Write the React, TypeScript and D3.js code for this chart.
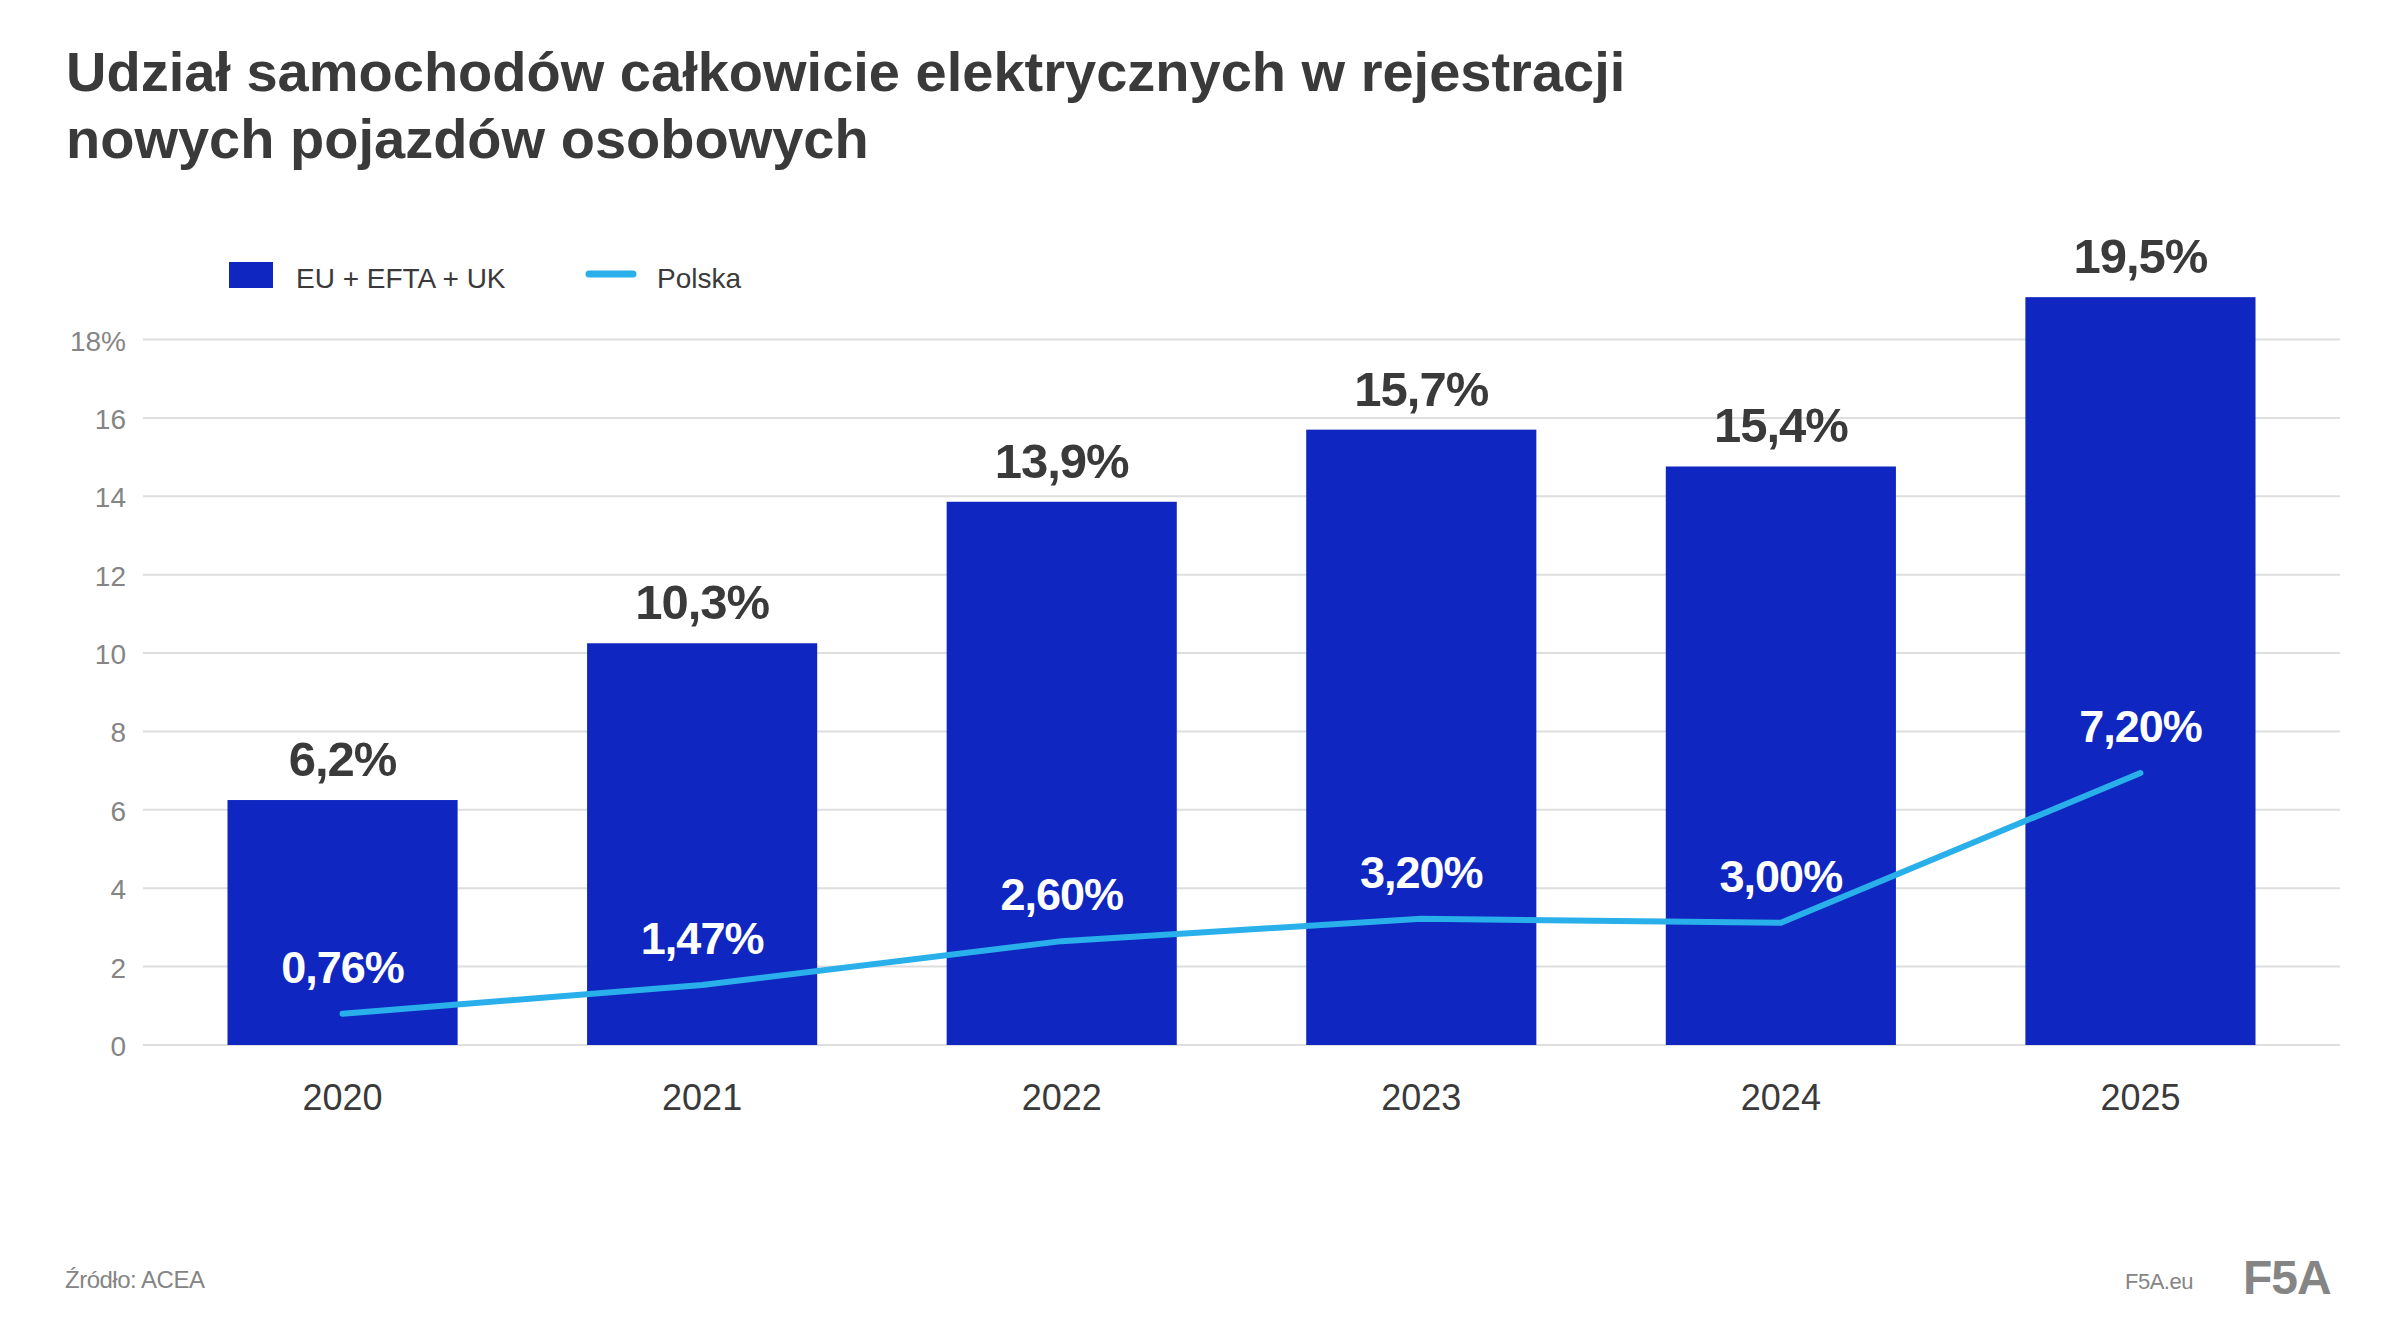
import { useEffect } from 'react';
import * as d3 from 'd3';

const YEARS = ['2020', '2021', '2022', '2023', '2024', '2025'];
const EU_SHARE = [6.25, 10.25, 13.86, 15.7, 14.76, 19.08];
const EU_LABELS = ['6,2%', '10,3%', '13,9%', '15,7%', '15,4%', '19,5%'];
const PL_SHARE = [0.8, 1.53, 2.65, 3.22, 3.12, 6.94];
const PL_LABELS = ['0,76%', '1,47%', '2,60%', '3,20%', '3,00%', '7,20%'];
const Y_TICKS = [0, 2, 4, 6, 8, 10, 12, 14, 16, 18];
const TITLE_LINES = [
  'Udział samochodów całkowicie elektrycznych w rejestracji',
  'nowych pojazdów osobowych',
];
const LEGEND = ['EU + EFTA + UK', 'Polska'];

const BAR = '#0f27c0';
const LINE = '#29b0ea';
const DARK = '#3a3a3a';
const GREY = '#858585';
const FONT = '"Liberation Sans", Arial, sans-serif';

const W = 2402;
const H = 1326;

export default function App() {
  useEffect(() => {
    document.body.style.margin = '0';
  }, []);

  const x = d3
    .scaleBand<string>()
    .domain(YEARS)
    .range([143, 2340])
    .paddingInner(0.36)
    .paddingOuter(0.235);
  const y = d3.scaleLinear().domain([0, 18]).range([1045, 339.5]);
  const cx = (i: number) => x(YEARS[i])! + x.bandwidth() / 2;

  const line = d3
    .line<number>()
    .x((_, i) => cx(i))
    .y((d) => y(d));

  return (
    <svg width={W} height={H} viewBox={`0 0 ${W} ${H}`} style={{ display: 'block', background: '#fff' }}>
      <g fontFamily={FONT}>
        {TITLE_LINES.map((t, i) => (
          <text key={t} x={66} y={91 + i * 67} fontSize={56} fontWeight={700} fill={DARK}>
            {t}
          </text>
        ))}

        {/* legend */}
        <rect x={229} y={262} width={44} height={26} fill={BAR} />
        <text x={296} y={288} fontSize={28} fill={DARK}>
          {LEGEND[0]}
        </text>
        <line x1={589} x2={633} y1={274} y2={274} stroke={LINE} strokeWidth={7} strokeLinecap="round" />
        <text x={657} y={288} fontSize={28} fill={DARK}>
          {LEGEND[1]}
        </text>

        {/* grid + y axis */}
        {Y_TICKS.map((t) => (
          <g key={t}>
            <line x1={143} x2={2340} y1={y(t)} y2={y(t)} stroke="#dedede" strokeWidth={2} />
            <text x={126} y={y(t) + 11} textAnchor="end" fontSize={28} fill={GREY}>
              {t === 18 ? `${t}%` : t}
            </text>
          </g>
        ))}

        {/* bars */}
        {EU_SHARE.map((v, i) => (
          <g key={YEARS[i]}>
            <rect x={x(YEARS[i])} y={y(v)} width={x.bandwidth()} height={y(0) - y(v)} fill={BAR} />
            <text
              x={cx(i)}
              y={y(v) - 24}
              textAnchor="middle"
              fontSize={49}
              fontWeight={700}
              fill={DARK}
              letterSpacing={-1}
            >
              {EU_LABELS[i]}
            </text>
            <text x={cx(i)} y={1110} textAnchor="middle" fontSize={36} fill={DARK}>
              {YEARS[i]}
            </text>
          </g>
        ))}

        {/* Polska line */}
        <path
          d={line(PL_SHARE)!}
          fill="none"
          stroke={LINE}
          strokeWidth={6}
          strokeLinecap="round"
          strokeLinejoin="round"
        />
        {PL_SHARE.map((v, i) => (
          <text
            key={YEARS[i]}
            x={cx(i)}
            y={y(v) - 31}
            textAnchor="middle"
            fontSize={45}
            fontWeight={700}
            fill="#fff"
            letterSpacing={-1}
          >
            {PL_LABELS[i]}
          </text>
        ))}

        {/* footer */}
        <text x={65} y={1288} fontSize={24} fill={GREY} letterSpacing={-0.5}>
          Źródło: ACEA
        </text>
        <text x={2125} y={1289} fontSize={22} fill={GREY} letterSpacing={-0.5}>
          F5A.eu
        </text>
        <text x={2243} y={1294} fontSize={48} fontWeight={700} fill={GREY} letterSpacing={-1}>
          F5A
        </text>
      </g>
    </svg>
  );
}
